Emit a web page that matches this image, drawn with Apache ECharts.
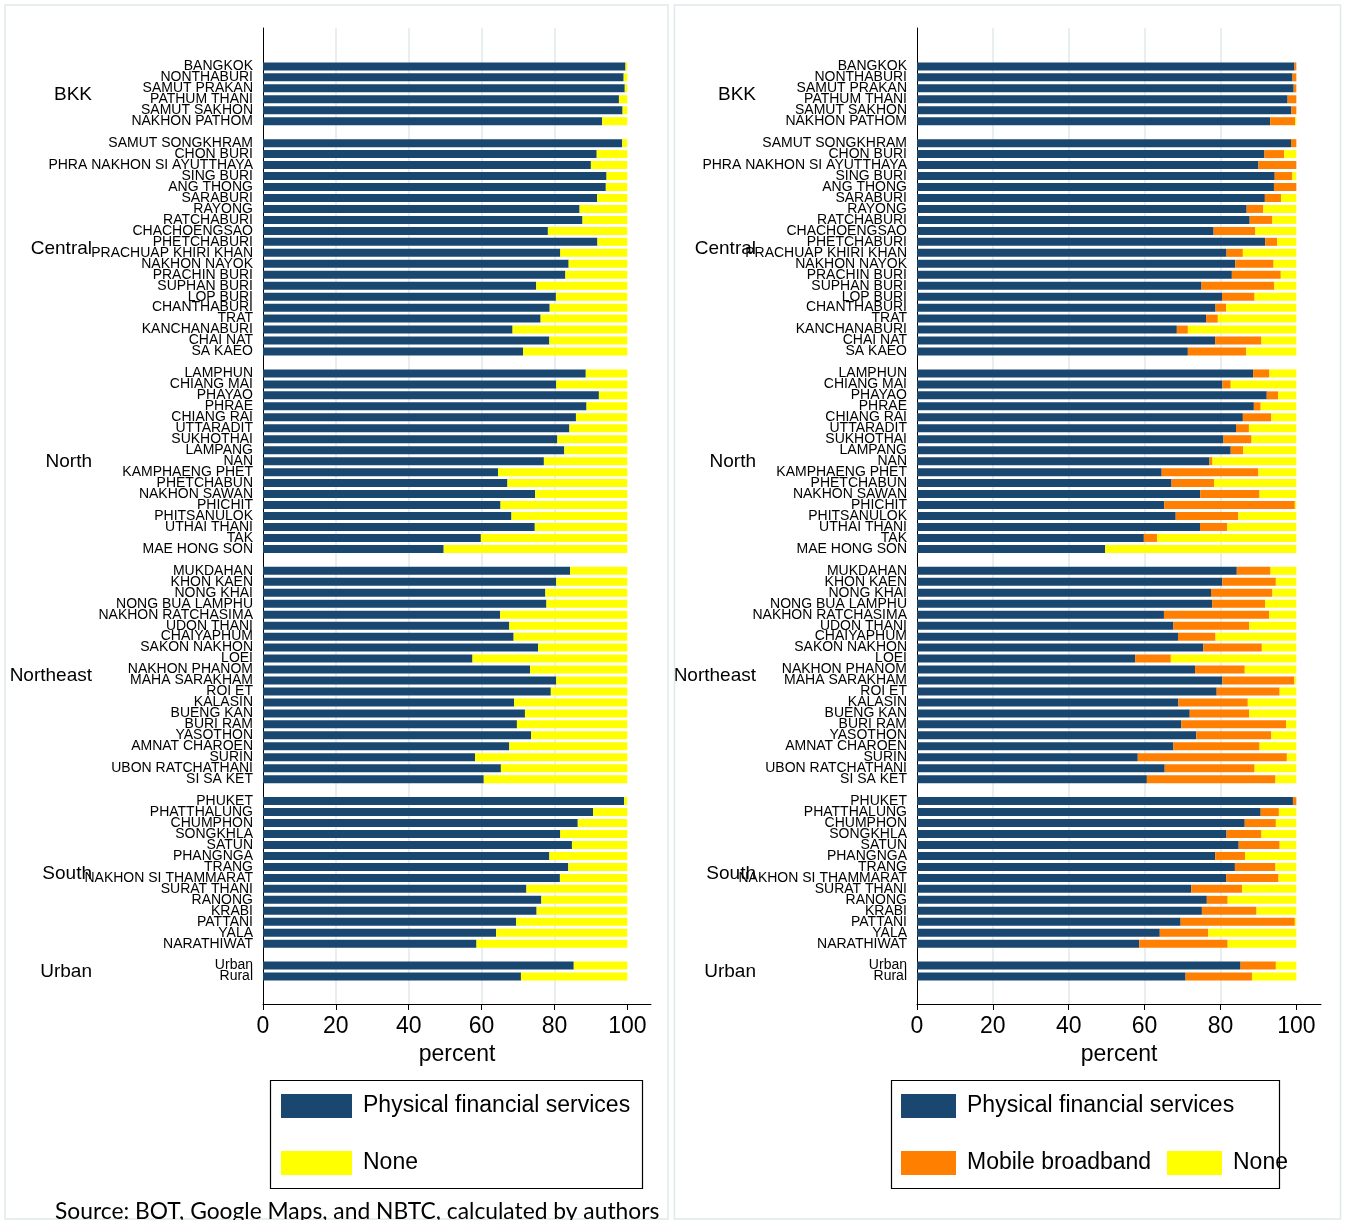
<!DOCTYPE html>
<html>
<head>
<meta charset="utf-8">
<title>Physical financial services and mobile broadband by province</title>
<script src="https://cdn.jsdelivr.net/npm/echarts@6/dist/echarts.min.js"></script>
<style>
  html, body { margin: 0; padding: 0; background: #fff; }
  #chart { width: 1346px; height: 1220px; }
</style>
</head>
<body>
<div id="chart"></div>
<script>
// regions in plotting order, and how many rows each one has
const regions = ['BKK', 'Central', 'North', 'Northeast', 'South', 'Urban'];
const regionSizes = [6, 20, 17, 20, 14, 2];

const provinces = [
  // BKK
  'BANGKOK', 'NONTHABURI', 'SAMUT PRAKAN', 'PATHUM THANI', 'SAMUT SAKHON', 'NAKHON PATHOM',
  // Central
  'SAMUT SONGKHRAM', 'CHON BURI', 'PHRA NAKHON SI AYUTTHAYA', 'SING BURI', 'ANG THONG', 'SARABURI',
  'RAYONG', 'RATCHABURI', 'CHACHOENGSAO', 'PHETCHABURI', 'PRACHUAP KHIRI KHAN', 'NAKHON NAYOK',
  'PRACHIN BURI', 'SUPHAN BURI', 'LOP BURI', 'CHANTHABURI', 'TRAT', 'KANCHANABURI', 'CHAI NAT', 'SA KAEO',
  // North
  'LAMPHUN', 'CHIANG MAI', 'PHAYAO', 'PHRAE', 'CHIANG RAI', 'UTTARADIT', 'SUKHOTHAI', 'LAMPANG', 'NAN',
  'KAMPHAENG PHET', 'PHETCHABUN', 'NAKHON SAWAN', 'PHICHIT', 'PHITSANULOK', 'UTHAI THANI', 'TAK', 'MAE HONG SON',
  // Northeast
  'MUKDAHAN', 'KHON KAEN', 'NONG KHAI', 'NONG BUA LAMPHU', 'NAKHON RATCHASIMA', 'UDON THANI', 'CHAIYAPHUM',
  'SAKON NAKHON', 'LOEI', 'NAKHON PHANOM', 'MAHA SARAKHAM', 'ROI ET', 'KALASIN', 'BUENG KAN', 'BURI RAM',
  'YASOTHON', 'AMNAT CHAROEN', 'SURIN', 'UBON RATCHATHANI', 'SI SA KET',
  // South
  'PHUKET', 'PHATTHALUNG', 'CHUMPHON', 'SONGKHLA', 'SATUN', 'PHANGNGA', 'TRANG', 'NAKHON SI THAMMARAT',
  'SURAT THANI', 'RANONG', 'KRABI', 'PATTANI', 'YALA', 'NARATHIWAT',
  // Urban / rural
  'Urban', 'Rural'
];

// percent with physical financial services (both panels)
const physical = [
  99.5, 99.0, 99.3, 97.7, 98.7, 93.1,
  98.6, 91.6, 90.0, 94.3, 94.1, 91.7, 86.9, 87.7, 78.2, 91.8, 81.6, 83.9, 83.0, 75.0, 80.4, 78.7, 76.2, 68.5, 78.6, 71.4,
  88.6, 80.5, 92.2, 88.8, 85.9, 84.1, 80.8, 82.7, 77.1, 64.5, 67.1, 74.7, 65.2, 68.2, 74.6, 59.8, 49.6,
  84.3, 80.5, 77.5, 77.8, 65.1, 67.6, 68.8, 75.5, 57.5, 73.3, 80.5, 79.0, 68.9, 71.9, 69.7, 73.6, 67.6, 58.2, 65.3, 60.6,
  99.1, 90.6, 86.4, 81.6, 84.8, 78.6, 83.8, 81.5, 72.3, 76.4, 75.1, 69.5, 64.0, 58.6,
  85.3, 70.8
];

// left panel: percent with none
const noneLeft = [
  0.5, 1.0, 0.7, 2.3, 1.3, 6.9,
  1.4, 8.4, 10.0, 5.7, 5.9, 8.3, 13.1, 12.3, 21.8, 8.2, 18.4, 16.1, 17.0, 25.0, 19.6, 21.3, 23.8, 31.5, 21.4, 28.6,
  11.4, 19.5, 7.8, 11.2, 14.1, 15.9, 19.2, 17.3, 22.9, 35.5, 32.9, 25.3, 34.8, 31.8, 25.4, 40.2, 50.4,
  15.7, 19.5, 22.5, 22.2, 34.9, 32.4, 31.2, 24.5, 42.5, 26.7, 19.5, 21.0, 31.1, 28.1, 30.3, 26.4, 32.4, 41.8, 34.7, 39.4,
  0.9, 9.4, 13.6, 18.4, 15.2, 21.4, 16.2, 18.5, 27.7, 23.6, 24.9, 30.5, 36.0, 41.4,
  14.7, 29.2
];

// right panel: percent with mobile broadband only
const mobile = [
  0.5, 1.0, 0.7, 2.3, 1.3, 6.6,
  1.4, 5.2, 10.0, 4.6, 5.9, 4.3, 4.4, 6.0, 11.0, 3.1, 4.3, 10.1, 12.9, 19.2, 8.6, 2.8, 3.1, 2.9, 12.2, 15.4,
  4.3, 2.2, 3.0, 1.8, 7.5, 3.4, 7.4, 3.3, 0.8, 25.5, 11.2, 15.6, 34.4, 16.5, 7.2, 3.5, 0,
  8.9, 14.1, 16.2, 14.0, 27.7, 20.0, 9.9, 15.4, 9.4, 13.1, 19.0, 16.6, 18.3, 15.7, 27.6, 19.8, 22.7, 39.3, 23.7, 33.9,
  0.9, 4.8, 8.2, 9.2, 10.8, 7.9, 10.7, 13.8, 13.4, 5.5, 14.4, 30.1, 12.8, 23.3,
  9.3, 17.5
];

// right panel: percent with none
const noneRight = [
  0, 0, 0, 0, 0, 0.3,
  0, 3.2, 0, 1.1, 0, 4.0, 8.7, 6.3, 10.8, 5.1, 14.1, 6.0, 4.1, 5.8, 11.0, 18.5, 20.7, 28.6, 9.2, 13.2,
  7.1, 17.3, 4.8, 9.4, 6.6, 12.5, 11.8, 14.0, 22.1, 10.0, 21.7, 9.7, 0.4, 15.3, 18.2, 36.7, 50.4,
  6.8, 5.4, 6.3, 8.2, 7.2, 12.4, 21.3, 9.1, 33.1, 13.6, 0.5, 4.4, 12.8, 12.4, 2.7, 6.6, 9.7, 2.5, 11.0, 5.5,
  0, 4.6, 5.4, 9.2, 4.4, 13.5, 5.5, 4.7, 14.3, 18.1, 10.5, 0.4, 23.2, 18.1,
  5.4, 11.7
];

const xTicks = [0, 20, 40, 60, 80, 100];

const NAVY = '#1a476f', ORANGE = '#ff7f00', YELLOW = '#ffff00';
const FONT = '"Liberation Sans", Arial, Helvetica, sans-serif';
const PAD_TOP = 3, PAD_BOTTOM = 2;
const GRID_TOP = 28, GRID_H = 976;

// spread rows out with blank slots around/between region blocks
function withGaps(values, blank) {
  const out = [];
  let gap = 0, k = 0;
  for (let i = 0; i < PAD_TOP; i++) out.push(blank(gap++));
  regionSizes.forEach((n, g) => {
    if (g > 0) out.push(blank(gap++));
    for (let j = 0; j < n; j++) out.push(values[k++]);
  });
  for (let i = 0; i < PAD_BOTTOM; i++) out.push(blank(gap++));
  return out;
}

const categories = withGaps(provinces, i => '#' + i);
const nRows = categories.length;
const rowH = GRID_H / nRows;

const panels = [
  { left: 263, width: 388, regionRight: 92 },
  { left: 917, width: 404, regionRight: 756 }
];

const myChart = echarts.init(document.getElementById('chart'));

const grids = [], xAxes = [], yAxes = [], graphics = [];

panels.forEach((p, i) => {
  grids.push({ left: p.left, width: p.width, top: GRID_TOP, height: GRID_H });
  xAxes.push({
    gridIndex: i, type: 'value', min: 0, max: 106.5,
    axisLine: { show: true, lineStyle: { color: '#000', width: 1 } },
    axisTick: { show: true, length: 6, customValues: xTicks, lineStyle: { color: '#000' } },
    axisLabel: { customValues: xTicks, fontSize: 23, color: '#000', margin: 11, fontFamily: FONT },
    splitLine: { show: true, showMinLine: false, showMaxLine: false, lineStyle: { color: '#e2eaed', width: 1.5 } },
    name: 'percent', nameLocation: 'middle', nameGap: 37,
    nameTextStyle: { fontSize: 23, color: '#000', fontFamily: FONT }
  });
  yAxes.push({
    gridIndex: i, type: 'category', inverse: true, data: categories,
    axisLine: { show: true, lineStyle: { color: '#000', width: 1 } },
    axisTick: { show: false },
    splitLine: { show: false },
    axisLabel: {
      interval: 0, fontSize: 14, color: '#000', margin: 10, fontFamily: FONT,
      padding: [2, 0, 0, 0],
      formatter: v => (v.charAt(0) === '#' ? '' : v)
    }
  });

  // region labels, centred on their block of rows
  let start = PAD_TOP;
  regionSizes.forEach((n, g) => {
    const mid = start + (n - 1) / 2;
    graphics.push({
      type: 'text', x: p.regionRight, y: GRID_TOP + (mid + 0.5) * rowH + 1,
      style: { text: regions[g], fontSize: 19, fontFamily: FONT, fill: '#000', align: 'right', verticalAlign: 'middle' }
    });
    start += n + 1;
  });
});

// panel frames
graphics.push(
  { type: 'rect', shape: { x: 5, y: 5, width: 663, height: 1214 }, style: { fill: 'none', stroke: '#e1e9ec', lineWidth: 1.5 } },
  { type: 'rect', shape: { x: 674.5, y: 5, width: 666, height: 1214 }, style: { fill: 'none', stroke: '#e1e9ec', lineWidth: 1.5 } },
  // legend boxes
  { type: 'rect', shape: { x: 270.5, y: 1080.5, width: 372, height: 108 }, style: { fill: 'none', stroke: '#000', lineWidth: 1.2 } },
  { type: 'rect', shape: { x: 891.5, y: 1080.5, width: 388, height: 108 }, style: { fill: 'none', stroke: '#000', lineWidth: 1.2 } },
  {
    type: 'text', x: 55, y: 1212,
    style: { text: 'Source: BOT, Google Maps, and NBTC, calculated by authors', fontSize: 22.8, fontFamily: 'Lato, "Open Sans", sans-serif', fill: '#000', verticalAlign: 'middle' }
  }
);

function bar(name, panel, values, color) {
  return {
    name: name, type: 'bar', stack: 'p' + panel,
    xAxisIndex: panel, yAxisIndex: panel,
    barWidth: 8, itemStyle: { color: color },
    emphasis: { disabled: true },
    data: withGaps(values, () => null)
  };
}

const legendBase = {
  icon: 'rect', selectedMode: false, padding: 0, orient: 'vertical',
  itemHeight: 24, itemGap: 33,
  textStyle: { fontSize: 23, color: '#000', fontFamily: FONT, lineHeight: 24, padding: [0, 0, 0, 6] }
};

myChart.setOption({
  animation: false,
  textStyle: { fontFamily: FONT },
  grid: grids,
  xAxis: xAxes,
  yAxis: yAxes,
  legend: [
    Object.assign({}, legendBase, { data: ['Physical financial services', 'None'], left: 281, top: 1094, itemWidth: 71 }),
    Object.assign({}, legendBase, { data: ['Physical financial services'], left: 901, top: 1094, itemWidth: 55 }),
    Object.assign({}, legendBase, { data: ['Mobile broadband'], left: 901, top: 1151, itemWidth: 55 }),
    Object.assign({}, legendBase, { data: ['None'], left: 1167, top: 1151, itemWidth: 55 })
  ],
  graphic: graphics,
  series: [
    bar('Physical financial services', 0, physical, NAVY),
    bar('None', 0, noneLeft, YELLOW),
    bar('Physical financial services', 1, physical, NAVY),
    bar('Mobile broadband', 1, mobile, ORANGE),
    bar('None', 1, noneRight, YELLOW)
  ]
});
</script>
</body>
</html>
